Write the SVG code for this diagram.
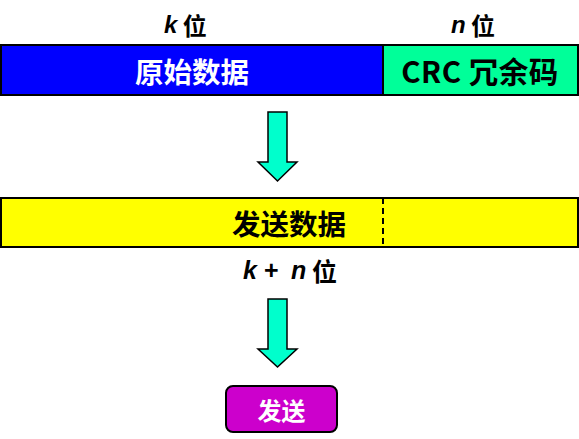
<svg xmlns="http://www.w3.org/2000/svg" width="579" height="439" viewBox="0 0 579 439">
<style>
.box{stroke:#000;stroke-width:2}
.arrow{fill:#00FFCC;stroke:#000;stroke-width:1.5;stroke-linejoin:miter}
.cjk{font-family:"Noto Sans CJK SC","Liberation Sans",sans-serif;font-weight:bold;dominant-baseline:central}
.lat{font-family:"Liberation Sans",Arial,sans-serif;font-style:italic;font-weight:bold}
</style>
<rect width="579" height="439" fill="#fff"/>
<g id="label-k">
<text class="cjk" x="164" y="24" font-size="24"><tspan class="lat">k</tspan> 位</text>
</g>
<g id="label-n">
<text class="cjk" x="451" y="24" font-size="24"><tspan class="lat">n</tspan> 位</text>
</g>
<g id="data">
<rect class="box" x="1" y="45" width="382" height="50" fill="#0000FF"/>
<text class="cjk" x="192" y="70" font-size="28.5" fill="#fff" text-anchor="middle">原始数据</text>
</g>
<g id="crc">
<rect class="box" x="383" y="45" width="195" height="50" fill="#00FF99"/>
<text class="cjk" x="480" y="70" font-size="29.5" letter-spacing="0.5" fill="#000" text-anchor="middle">CRC 冗余码</text>
</g>
<g id="connectors">
<path class="arrow" d="M268,112 H287 V162 H297 L277.5,181 L258,162 H268 Z"/>
<path class="arrow" d="M268,299 H287 V349 H297 L277.5,367 L258,349 H268 Z"/>
</g>
<g id="send-data">
<rect class="box" x="1" y="198" width="577" height="49" fill="#FFFF00"/>
<line x1="383" y1="198" x2="383" y2="247" stroke="#000" stroke-width="2" stroke-dasharray="6,4"/>
<text class="cjk" x="289" y="222" font-size="28.5" fill="#000" text-anchor="middle">发送数据</text>
</g>
<g id="label-kn">
<text class="cjk" y="270" font-size="25"><tspan class="lat" x="243">k</tspan><tspan x="264" font-family="Liberation Sans" font-weight="bold">+</tspan><tspan class="lat" x="291">n</tspan><tspan x="312">位</tspan></text>
</g>
<g id="send">
<rect class="box" x="226" y="386" width="111" height="46" rx="7" fill="#CC00CC"/>
<text class="cjk" x="281.5" y="409" font-size="24" fill="#fff" text-anchor="middle">发送</text>
</g>
</svg>
